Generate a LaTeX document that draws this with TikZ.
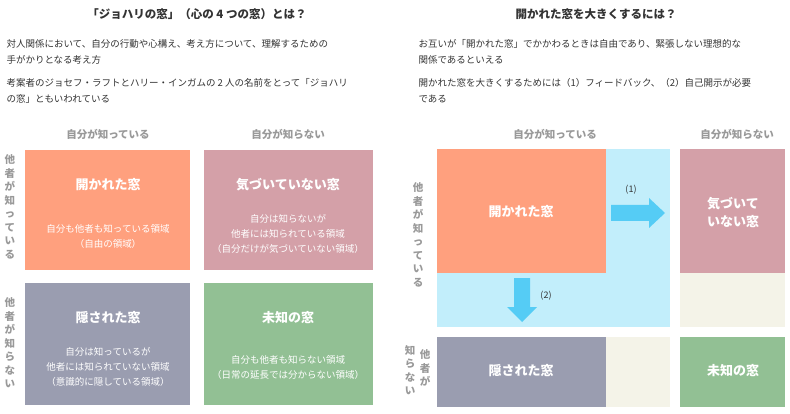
\documentclass[tikz,border=0pt]{standalone}
\usepackage{fontspec}
\setmainfont{Noto Sans CJK JP}
\usetikzlibrary{positioning}
\definecolor{openc}{HTML}{FFA07E}
\definecolor{blindc}{HTML}{D4A0A8}
\definecolor{hidec}{HTML}{9A9DB0}
\definecolor{unkc}{HTML}{92C094}
\definecolor{skyc}{HTML}{C2EEFB}
\definecolor{beigec}{HTML}{F4F3E8}
\definecolor{arrc}{HTML}{55CCF5}
\definecolor{txtc}{HTML}{333333}
\definecolor{headc}{HTML}{999999}
\begin{document}
\begin{tikzpicture}[x=1pt,y=-1pt,
	title/.style={text=txtc, font=\fontsize{11.5}{14}\selectfont\bfseries},
	body/.style={text=txtc, font=\fontsize{9.5}{15}\selectfont, anchor=west},
	head/.style={text=headc, font=\fontsize{10.5}{13}\selectfont\bfseries},
	vhead/.style={text=headc, font=\fontsize{10.5}{13.5}\selectfont\bfseries, align=center},
	wname/.style={text=white, font=\fontsize{13}{18}\selectfont\bfseries, align=center},
	wtext/.style={text=white, font=\fontsize{9.5}{15}\selectfont, align=center},
	bigarrow/.style={fill=arrc, draw=none}
	]
	\useasboundingbox (0,0) rectangle (790,414);
	% Left panel texts
	\node[title] (ltitle) at (197,14) {「ジョハリの窓」（心の 4 つの窓）とは？};
	\node[body] (ltext1) at (3,44) {対人関係において、自分の行動や心構え、考え方について、理解するための};
	\node[body] (ltext2) at (3,60) {手がかりとなる考え方};
	\node[body] (ltext3) at (3,83) {考案者のジョセフ・ラフトとハリー・インガムの 2 人の名前をとって「ジョハリ};
	\node[body] (ltext4) at (3,99) {の窓」ともいわれている};
	\node[head] (lknow) at (108,134) {自分が知っている};
	\node[head] (lnot) at (288,134) {自分が知らない};
	\node[vhead] (lother1) at (10,207) {他\\者\\が\\知\\っ\\て\\い\\る};
	\node[vhead] (lother2) at (10,343) {他\\者\\が\\知\\ら\\な\\い};
	% Left panel boxes
	\fill[openc] (25,150) rectangle (190,270);
	\fill[blindc] (204,150) rectangle (373,270);
	\fill[hidec] (25,283) rectangle (190,405);
	\fill[unkc] (204,283) rectangle (373,405);
	\node[wname] (open) at (108,185) {開かれた窓};
	\node[wtext] (opent) at (108,236) {自分も他者も知っている領域\\（自由の領域）};
	\node[wname] (blind) at (288,185) {気づいていない窓};
	\node[wtext] (blindt) at (288,234) {自分は知らないが\\他者には知られている領域\\（自分だけが気づいていない領域）};
	\node[wname] (hide) at (108,318) {隠された窓};
	\node[wtext] (hidet) at (108,367) {自分は知っているが\\他者には知られていない領域\\（意識的に隠している領域）};
	\node[wname] (unk) at (288,318) {未知の窓};
	\node[wtext] (unkt) at (288,367) {自分も他者も知らない領域\\（日常の延長では分からない領域）};
	% Right panel texts
	\node[title] (rtitle) at (596,14) {開かれた窓を大きくするには？};
	\node[body] (rtext1) at (415,44) {お互いが「開かれた窓」でかかわるときは自由であり、緊張しない理想的な};
	\node[body] (rtext2) at (415,60) {関係であるといえる};
	\node[body] (rtext3) at (415,83) {開かれた窓を大きくするためには（1）フィードバック、（2）自己開示が必要};
	\node[body] (rtext4) at (415,99) {である};
	\node[head] (rknow) at (555,134) {自分が知っている};
	\node[head] (rnot) at (737,134) {自分が知らない};
	\node[vhead] (rother1) at (418,235) {他\\者\\が\\知\\っ\\て\\い\\る};
	\node[vhead] (rother2) at (425,368) {他\\者\\が};
	\node[vhead] (rother3) at (410,370) {知\\ら\\な\\い};
	% Right panel boxes
	\fill[skyc] (437,149) rectangle (670,327);
	\fill[openc] (437,149) rectangle (606,273);
	\fill[blindc] (680,149) rectangle (785,273);
	\fill[beigec] (680,273) rectangle (785,327);
	\fill[hidec] (437,337) rectangle (606,407);
	\fill[beigec] (606,337) rectangle (670,407);
	\fill[unkc] (680,337) rectangle (785,407);
	\node[wname] (ropen) at (521,212) {開かれた窓};
	\node[wname] (rblind) at (733,212) {気づいて\\いない窓};
	\node[wname] (rhide) at (521,371) {隠された窓};
	\node[wname] (runk) at (733,371) {未知の窓};
	% Arrows
	\fill[bigarrow] (611,205) -- (649,205) -- (649,198) -- (665,213) -- (649,228) -- (649,221) -- (611,221) -- cycle;
	\fill[bigarrow] (514,278) -- (530,278) -- (530,307) -- (537,307) -- (522,322) -- (507,307) -- (514,307) -- cycle;
	\node[text=txtc, font=\fontsize{9}{11}\selectfont] (lab1) at (631,190) {(1)};
	\node[text=txtc, font=\fontsize{9}{11}\selectfont] (lab2) at (546,296) {(2)};
\end{tikzpicture}
\end{document}
